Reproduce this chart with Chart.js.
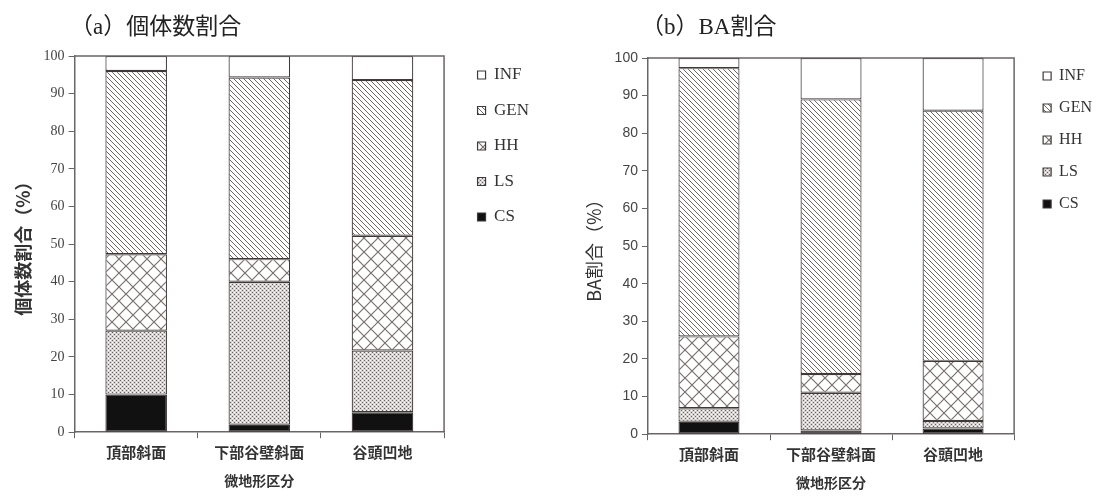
<!DOCTYPE html>
<html>
<head>
<meta charset="utf-8">
<script src="https://cdn.jsdelivr.net/npm/chart.js@4.4.0/dist/chart.umd.min.js"></script>
<style>
    body { margin: 0; background: #fff; }
    .panel { position: absolute; top: 0; width: 559px; height: 496px; }
    .panel canvas { width: 559px; height: 496px; }
    .title { position: absolute; top: 7px; font-family: 'Liberation Serif', 'Noto Sans CJK JP'; font-size: 23px; color: #222; white-space: nowrap; }
</style>
</head>
<body>
<div class="panel" style="left:0"><canvas id="chartA" width="559" height="496"></canvas></div>
<div class="panel" style="left:559px"><canvas id="chartB" width="559" height="496"></canvas></div>
<div class="title" style="left:70px">（a）個体数割合</div>
<div class="title" style="left:641px">（b）BA割合</div>
<script>
// Categories and series (bottom to top of each stack)
const categories = ['頂部斜面', '下部谷壁斜面', '谷頭凹地'];
const seriesNames = ['CS', 'LS', 'HH', 'GEN', 'INF'];

// (a) individual count ratio (%)
const countCS  = [10.0, 2.0, 5.3];
const countLS  = [17.0, 38.0, 16.4];
const countHH  = [20.3, 6.0, 30.5];
const countGEN = [48.7, 48.3, 41.4];
const countINF = [4.0, 5.7, 6.4];

// (b) basal area ratio (%)
const baCS  = [3.3, 1.0, 1.5];
const baLS  = [3.6, 10.0, 2.0];
const baHH  = [19.1, 5.0, 16.0];
const baGEN = [71.3, 73.0, 66.5];
const baINF = [2.7, 11.0, 14.0];

const yTicks = [0, 10, 20, 30, 40, 50, 60, 70, 80, 90, 100];

/**
 * Build small repeating fill patterns
 */
function makePattern(kind) {
    const c = document.createElement('canvas');
    const ctx = c.getContext('2d');
    if (kind === 'GEN') {
        c.width = c.height = 5;
        ctx.fillStyle = '#fff';
        ctx.fillRect(0, 0, 5, 5);
        ctx.strokeStyle = '#6e6464';
        ctx.lineWidth = 1;
        ctx.beginPath();
        ctx.moveTo(-1, -1); ctx.lineTo(6, 6);
        ctx.moveTo(-1, 4); ctx.lineTo(1, 6);
        ctx.moveTo(4, -1); ctx.lineTo(6, 1);
        ctx.stroke();
    } else if (kind === 'HH') {
        c.width = c.height = 14;
        ctx.fillStyle = '#fff';
        ctx.fillRect(0, 0, 14, 14);
        ctx.strokeStyle = '#7a7070';
        ctx.lineWidth = 1.2;
        ctx.beginPath();
        ctx.moveTo(0, 0); ctx.lineTo(14, 14);
        ctx.moveTo(14, 0); ctx.lineTo(0, 14);
        ctx.stroke();
    } else if (kind === 'LS') {
        c.width = c.height = 4;
        ctx.fillStyle = '#d6d2d2';
        ctx.fillRect(0, 0, 4, 4);
        ctx.fillStyle = '#6a6262';
        ctx.fillRect(0, 0, 1, 1);
        ctx.fillRect(2, 2, 1, 1);
        ctx.fillStyle = '#fff';
        ctx.fillRect(2, 0, 1, 1);
        ctx.fillRect(0, 2, 1, 1);
    } else {
        return kind === 'CS' ? '#111111' : '#ffffff';
    }
    return ctx.createPattern(c, 'repeat');
}

function buildDatasets(values) {
    return seriesNames.map((name, i) => ({
        label: name,
        data: values[i],
        backgroundColor: makePattern(name),
        borderColor: '#3f3939',
        borderWidth: 1.2,
        borderSkipped: false,
        categoryPercentage: 1.0,
        barPercentage: 0.5
    }));
}

// Draws top and right frame lines round the plot area
const framePlugin = {
    id: 'frame',
    afterDraw(chart) {
        const a = chart.chartArea;
        const ctx = chart.ctx;
        ctx.save();
        ctx.strokeStyle = '#6b6666';
        ctx.lineWidth = 1.5;
        ctx.beginPath();
        ctx.moveTo(a.left, a.top);
        ctx.lineTo(a.right, a.top);
        ctx.lineTo(a.right, a.bottom);
        ctx.stroke();
        ctx.restore();
    }
};

// Nudge the legend box after layout
const legendShiftPlugin = {
    id: 'legendShift',
    afterLayout(chart, args, opts) {
        const l = chart.legend;
        if (!l) return;
        l.left += opts.dx; l.right += opts.dx;
        l.top += opts.dy; l.bottom += opts.dy;
    }
};

function makeOptions(cfg) {
    return {
        responsive: false,
        animation: false,
        layout: { padding: cfg.padding },
        plugins: {
            legend: {
                position: 'right',
                align: 'start',
                reverse: true,
                labels: {
                    boxWidth: 8,
                    boxHeight: 8,
                    padding: cfg.legendPadding,
                    color: '#333',
                    font: { family: 'Liberation Serif', size: cfg.legendSize }
                }
            },
            legendShift: { dx: cfg.legendDx, dy: cfg.legendDy },
            tooltip: { enabled: false }
        },
        scales: {
            x: {
                stacked: true,
                offset: true,
                grid: { offset: true, drawOnChartArea: false, tickLength: 6, color: '#666' },
                border: { color: '#6b6666', width: 1.5 },
                ticks: { color: '#333', font: { family: 'Noto Sans CJK JP', size: 15, weight: 'bold' }, padding: 5 },
                title: { display: true, text: '微地形区分', color: '#333', font: { family: 'Noto Sans CJK JP', size: 14, weight: 'bold' }, padding: { top: 6 } }
            },
            y: {
                stacked: true,
                min: 0,
                max: 100,
                afterBuildTicks(axis) { axis.ticks = yTicks.map(v => ({ value: v })); },
                grid: { drawOnChartArea: false, tickLength: 6, color: '#666' },
                border: { color: '#6b6666', width: 1.5 },
                ticks: { color: '#444', font: { family: cfg.tickFamily, size: 14 }, padding: 4 },
                title: { display: true, text: cfg.yTitle, color: '#333', font: { family: 'Noto Sans CJK JP', size: 18, weight: cfg.yTitleWeight }, padding: 6 }
            }
        }
    };
}

new Chart(document.getElementById('chartA'), {
    type: 'bar',
    data: {
        labels: categories,
        datasets: buildDatasets([countCS, countLS, countHH, countGEN, countINF])
    },
    options: makeOptions({
        padding: { left: 6, right: 35, top: 56, bottom: 3 },
        legendPadding: 18.5,
        legendSize: 17,
        legendDx: 15,
        legendDy: -8,
        tickFamily: 'Liberation Serif',
        yTitle: '個体数割合（%）',
        yTitleWeight: 'bold'
    }),
    plugins: [framePlugin, legendShiftPlugin]
});

new Chart(document.getElementById('chartB'), {
    type: 'bar',
    data: {
        labels: categories,
        datasets: buildDatasets([baCS, baLS, baHH, baGEN, baINF])
    },
    options: makeOptions({
        padding: { left: 18, right: 29, top: 58, bottom: 1 },
        legendPadding: 16,
        legendSize: 16,
        legendDx: 13,
        legendDy: -6,
        tickFamily: 'Liberation Sans',
        yTitle: 'BA割合（%）',
        yTitleWeight: 'normal'
    }),
    plugins: [framePlugin, legendShiftPlugin]
});
</script>
</body>
</html>
